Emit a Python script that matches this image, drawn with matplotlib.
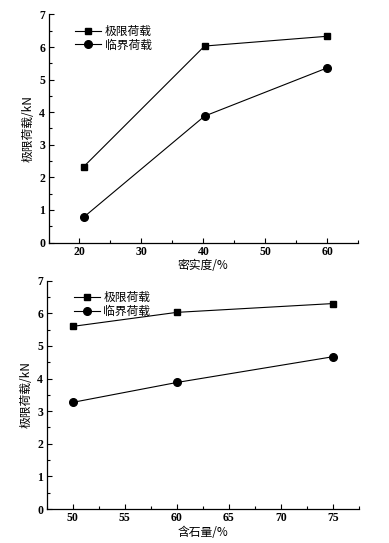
import matplotlib
matplotlib.use("Agg")
import matplotlib.pyplot as plt
from matplotlib.ticker import MultipleLocator

plt.rcParams['font.family'] = ['Liberation Serif', 'Noto Sans CJK SC']

# Top chart: density
density = [20.7, 40.2, 60.0]
ult_top = [2.33, 6.03, 6.33]
crit_top = [0.78, 3.88, 5.36]

# Bottom chart: stone content
stone = [50, 60, 75]
ult_bot = [5.60, 6.03, 6.30]
crit_bot = [3.27, 3.88, 4.67]

ylabel = "极限荷载/kN"
labels = ["极限荷载", "临界荷载"]

fig = plt.figure(figsize=(3.89, 5.43), dpi=100)
ax1 = fig.add_axes([0.1247, 0.5534, 0.796, 0.420])
ax2 = fig.add_axes([0.120, 0.0626, 0.803, 0.4204])

cjk = ['Noto Sans CJK SC', 'Liberation Serif']

def style(ax, xlim, xmaj, xmin, xlabel, xs, ys1, ys2):
    ax.plot(xs, ys1, '-s', color='black', lw=0.8, ms=5, label=labels[0])
    ax.plot(xs, ys2, '-o', color='black', lw=0.8, ms=5.5, label=labels[1])
    ax.set_xlim(*xlim)
    ax.set_ylim(0, 7)
    ax.xaxis.set_major_locator(MultipleLocator(xmaj))
    ax.xaxis.set_minor_locator(MultipleLocator(xmin))
    ax.yaxis.set_major_locator(MultipleLocator(1))
    ax.yaxis.set_minor_locator(MultipleLocator(0.5))
    ax.tick_params(which='both', direction='in', labelsize=8.5, pad=2.5)
    ax.tick_params(which='major', length=3.5, width=0.8)
    ax.tick_params(which='minor', length=2, width=0.8)
    for t in ax.get_xticklabels() + ax.get_yticklabels():
        t.set_fontweight('bold')
    ax.spines['top'].set_visible(False)
    ax.spines['right'].set_visible(False)
    ax.spines['left'].set_linewidth(0.9)
    ax.spines['bottom'].set_linewidth(0.9)
    ax.set_xlabel(xlabel, family=cjk, fontsize=8.5, fontweight='medium', labelpad=1)
    ax.set_ylabel(ylabel, family=cjk, fontsize=8.5, fontweight='medium', labelpad=3)
    ax.legend(loc='upper left', bbox_to_anchor=(0.06, 0.99), frameon=False,
              prop={'family': cjk, 'size': 8.5, 'weight': 'medium'}, handlelength=2.2,
              handletextpad=0.3, labelspacing=0.05, borderpad=0.2)

style(ax1, (15, 65), 10, 5, "密实度/%", density, ult_top, crit_top)
style(ax2, (47.5, 77.5), 5, 2.5, "含石量/%", stone, ult_bot, crit_bot)

fig.savefig("out.png", dpi=100)
